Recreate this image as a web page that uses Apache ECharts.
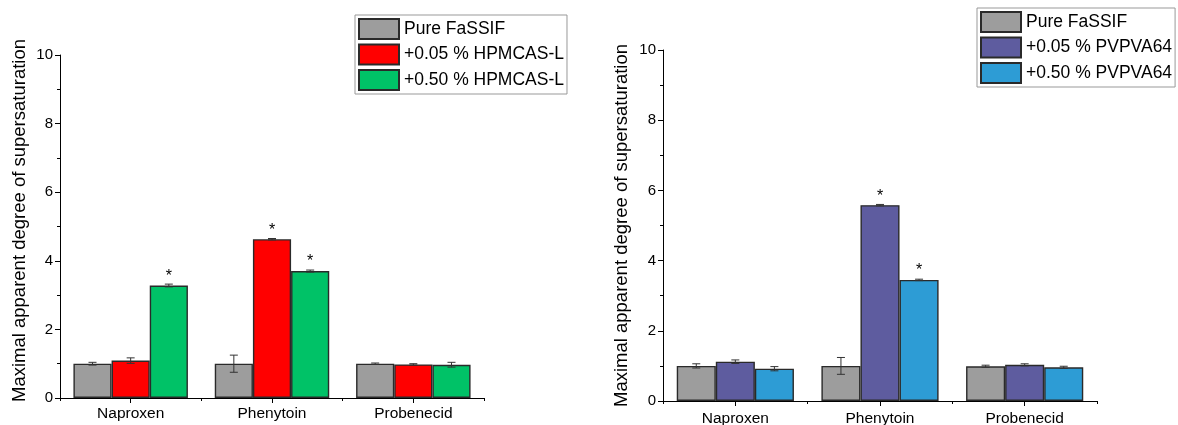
<!DOCTYPE html>
<html><head><meta charset="utf-8">
<script src="https://cdn.jsdelivr.net/npm/echarts@6/dist/echarts.min.js"></script>
<style>html,body{margin:0;padding:0;background:#fff}#c{width:1178px;height:425px}</style>
</head><body><div id="c"></div>
<script>
const categories = ['Naproxen', 'Phenytoin', 'Probenecid'];
const yTicks = [0, 2, 4, 6, 8, 10];
const yName = 'Maximal apparent degree of supersaturation';

const leftNames = ['Pure FaSSIF', '+0.05 % HPMCAS-L', '+0.50 % HPMCAS-L'];
const leftPure = [1.0, 1.0, 1.0];
const leftPureErr = [0.04, 0.25, 0.02];
const leftLow = [1.09, 4.63, 0.98];
const leftLowErr = [0.08, 0.02, 0.02];
const leftHigh = [3.28, 3.70, 0.97];
const leftHighErr = [0.04, 0.03, 0.07];
const leftLowStar = [false, true, false];
const leftHighStar = [true, true, false];

const rightNames = ['Pure FaSSIF', '+0.05 % PVPVA64', '+0.50 % PVPVA64'];
const rightPure = [1.0, 1.0, 0.99];
const rightPureErr = [0.06, 0.24, 0.03];
const rightLow = [1.12, 5.58, 1.03];
const rightLowErr = [0.05, 0.02, 0.03];
const rightHigh = [0.92, 3.45, 0.96];
const rightHighErr = [0.06, 0.02, 0.03];
const rightLowStar = [false, true, false];
const rightHighStar = [false, true, false];

const colGray = '#9d9d9d', colRed = '#ff0000', colGreen = '#00c267';
const colPurple = '#5e5c9f', colBlue = '#2d9cd5';
const FONT = 'Liberation Sans, Arial, sans-serif';
const CAT_GAP = 0.19;

function barData(vals, stars) {
  return vals.map((v, i) => ({
    value: v,
    label: (stars && stars[i]) ? {show: true, position: 'top', distance: 1, formatter: '*',
      color: '#000', fontSize: 16, fontFamily: FONT} : {show: false}
  }));
}
function barSeries(name, vals, color, gi, stars) {
  return {
    type: 'bar', name: name, xAxisIndex: gi * 2, yAxisIndex: gi,
    data: barData(vals, stars), barGap: '0%', barCategoryGap: (CAT_GAP * 100) + '%',
    itemStyle: {color: color, borderColor: '#2a2a2a', borderWidth: 1.4},
    emphasis: {disabled: true}, z: 2
  };
}
function errSeries(vals, errs, slot, gi) {
  return {
    type: 'custom', xAxisIndex: gi * 2, yAxisIndex: gi, silent: true, z: 5,
    data: vals.map((v, i) => [i, v, errs[i]]),
    renderItem: function (params, api) {
      const c = api.value(0), v = api.value(1), e = api.value(2);
      const w = api.size([1, 0])[0] * (1 - CAT_GAP) / 3;
      const center = api.coord([c, v]);
      const x = center[0] + (slot - 1) * w;
      const yTop = api.coord([c, v + e])[1];
      const yBot = api.coord([c, v - e])[1];
      const cap = 4;
      const st = {stroke: '#333', lineWidth: 1};
      return {type: 'group', children: [
        {type: 'line', shape: {x1: x, y1: yTop, x2: x, y2: yBot}, style: st},
        {type: 'line', shape: {x1: x - cap, y1: yTop, x2: x + cap, y2: yTop}, style: st},
        {type: 'line', shape: {x1: x - cap, y1: yBot, x2: x + cap, y2: yBot}, style: st}
      ]};
    }
  };
}
function yAxis(gi, gap, pad) {
  return {
    type: 'value', gridIndex: gi, min: yTicks[0], max: yTicks[yTicks.length - 1], interval: 2,
    name: yName, nameLocation: 'middle', nameGap: gap, nameRotate: 90,
    nameTextStyle: {fontSize: 18.5, fontFamily: FONT, color: '#000', padding: pad},
    axisLine: {show: true, lineStyle: {color: '#000', width: 1}},
    axisTick: {show: true, length: 5, lineStyle: {color: '#000'}},
    minorTick: {show: true, splitNumber: 2, length: 3, lineStyle: {color: '#000'}},
    splitLine: {show: false},
    axisLabel: {fontSize: 15, fontFamily: FONT, color: '#000', margin: 7}
  };
}
function xAxes(gi, margin) {
  return [{
    type: 'category', gridIndex: gi, data: categories,
    axisLine: {show: true, lineStyle: {color: '#000', width: 1}},
    axisTick: {show: true, length: 3, alignWithLabel: false, lineStyle: {color: '#000'}},
    axisLabel: {fontSize: 15.5, fontFamily: FONT, color: '#000', margin: margin}
  }, {
    type: 'category', gridIndex: gi, data: categories, position: 'bottom',
    axisLine: {show: false},
    axisTick: {show: true, length: 5, alignWithLabel: true, lineStyle: {color: '#000'}},
    axisLabel: {show: false}
  }];
}
function legend(names, left, top) {
  return {
    data: names, orient: 'vertical', left: left, top: top,
    icon: 'rect', itemWidth: 40, itemHeight: 20, itemGap: 3.5,
    borderColor: '#999', borderWidth: 1, padding: [3, 3, 3, 3],
    textStyle: {fontSize: 17.5, fontFamily: FONT, color: '#000'},
    selectedMode: false
  };
}

const chart = echarts.init(document.getElementById('c'), null, {renderer: 'canvas'});
chart.setOption({
  animation: false,
  grid: [
    {left: 60, top: 55, width: 424, bottom: 27, outerBoundsMode: 'none'},
    {left: 663, top: 50, width: 434, bottom: 24, outerBoundsMode: 'none'}
  ],
  xAxis: [...xAxes(0, 8), ...xAxes(1, 10)],
  yAxis: [yAxis(0, 31, [0, 0, 0, 12]), yAxis(1, 32, 0)],
  legend: [legend(leftNames, 355, 15), legend(rightNames, 977, 8)],
  series: [
    barSeries(leftNames[0], leftPure, colGray, 0),
    barSeries(leftNames[1], leftLow, colRed, 0, leftLowStar),
    barSeries(leftNames[2], leftHigh, colGreen, 0, leftHighStar),
    errSeries(leftPure, leftPureErr, 0, 0),
    errSeries(leftLow, leftLowErr, 1, 0),
    errSeries(leftHigh, leftHighErr, 2, 0),
    barSeries(rightNames[0], rightPure, colGray, 1),
    barSeries(rightNames[1], rightLow, colPurple, 1, rightLowStar),
    barSeries(rightNames[2], rightHigh, colBlue, 1, rightHighStar),
    errSeries(rightPure, rightPureErr, 0, 1),
    errSeries(rightLow, rightLowErr, 1, 1),
    errSeries(rightHigh, rightHighErr, 2, 1)
  ]
});
</script></body></html>
